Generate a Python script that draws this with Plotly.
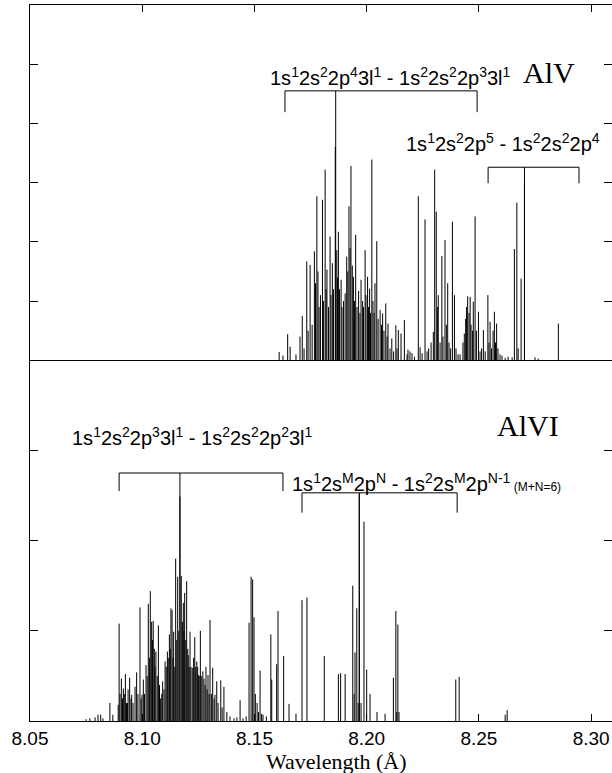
import plotly.graph_objects as go

# ---------------- data (wavelength in Angstrom, relative intensity) ----------------
alv_wavelength = [
    8.1610, 8.1627, 8.1648, 8.1659, 8.1685, 8.1703, 8.1713, 8.1721, 8.1733, 8.1739,
    8.1748, 8.1757, 8.1767, 8.1772, 8.1778, 8.1783, 8.1788, 8.1794, 8.1803, 8.1808,
    8.1815, 8.1819, 8.1823, 8.1830, 8.1837, 8.1841, 8.1847, 8.1852, 8.1860, 8.1867,
    8.1870, 8.1874, 8.1879, 8.1886, 8.1890, 8.1897, 8.1904, 8.1911, 8.1916, 8.1921,
    8.1926, 8.1930, 8.1936, 8.1941, 8.1946, 8.1951, 8.1957, 8.1964, 8.1970, 8.1975,
    8.1982, 8.1986, 8.1993, 8.1997, 8.2004, 8.2008, 8.2013, 8.2017, 8.2023, 8.2028,
    8.2033, 8.2037, 8.2045, 8.2051, 8.2060, 8.2066, 8.2071, 8.2077, 8.2085, 8.2091,
    8.2095, 8.2104, 8.2112, 8.2120, 8.2130, 8.2135, 8.2141, 8.2153, 8.2168, 8.2180,
    8.2184, 8.2193, 8.2202, 8.2213, 8.2230, 8.2238, 8.2247, 8.2260, 8.2269, 8.2276,
    8.2287, 8.2297, 8.2303, 8.2310, 8.2315, 8.2319, 8.2327, 8.2335, 8.2340, 8.2349,
    8.2355, 8.2361, 8.2367, 8.2374, 8.2382, 8.2391, 8.2398, 8.2407, 8.2416, 8.2429,
    8.2435, 8.2441, 8.2445, 8.2450, 8.2456, 8.2461, 8.2465, 8.2472, 8.2475, 8.2483,
    8.2489, 8.2498, 8.2505, 8.2512, 8.2520, 8.2528, 8.2540, 8.2545, 8.2550, 8.2556,
    8.2563, 8.2569, 8.2574, 8.2579, 8.2585, 8.2594, 8.2603, 8.2617, 8.2630, 8.2648,
    8.2658, 8.2669, 8.2675, 8.2688, 8.2703, 8.2750, 8.2764, 8.2854,
]
alv_intensity = [
    0.14, 0.08, 0.44, 0.23, 0.10, 0.40, 0.75, 0.20, 1.67, 0.50,
    1.61, 0.60, 1.84, 1.30, 2.77, 1.50, 0.90, 1.10, 2.71, 1.00,
    3.22, 1.20, 1.53, 0.90, 2.09, 1.10, 1.64, 1.20, 3.60, 1.86,
    1.40, 2.17, 1.20, 1.36, 0.90, 1.00, 1.13, 1.75, 1.50, 2.60,
    1.90, 3.28, 1.60, 1.41, 1.00, 2.12, 0.90, 1.17, 0.80, 1.36,
    1.00, 0.90, 1.86, 1.10, 1.41, 0.90, 1.21, 0.80, 3.39, 1.00,
    0.80, 1.30, 2.01, 0.70, 0.85, 0.60, 0.79, 0.50, 0.96, 0.40,
    0.62, 0.20, 0.37, 0.15, 0.59, 0.20, 0.51, 0.45, 0.68, 0.10,
    0.18, 0.15, 0.12, 0.06, 2.77, 0.22, 0.12, 2.38, 0.15, 0.20,
    0.30, 0.48, 3.22, 2.51, 0.90, 1.10, 0.30, 1.76, 0.40, 2.03,
    0.60, 1.30, 0.30, 0.20, 2.34, 1.10, 0.20, 0.10, 0.10, 0.30,
    0.45, 0.70, 0.90, 1.08, 0.80, 1.07, 0.60, 0.50, 0.99, 2.43,
    0.50, 0.82, 0.15, 0.20, 0.51, 0.15, 1.10, 0.30, 0.65, 0.20,
    0.50, 0.82, 0.30, 0.62, 0.20, 0.10, 0.08, 0.04, 0.06, 0.05,
    1.88, 2.66, 0.20, 1.38, 3.00, 0.05, 0.03, 0.62,
]

alvi_wavelength = [
    8.0750, 8.0767, 8.0790, 8.0803, 8.0815, 8.0825, 8.0856, 8.0869, 8.0893, 8.0897,
    8.0901, 8.0907, 8.0912, 8.0916, 8.0920, 8.0925, 8.0930, 8.0934, 8.0937, 8.0944,
    8.0950, 8.0953, 8.0959, 8.0968, 8.0975, 8.0981, 8.0990, 8.0995, 8.0999, 8.1005,
    8.1010, 8.1017, 8.1022, 8.1027, 8.1032, 8.1036, 8.1042, 8.1046, 8.1049, 8.1054,
    8.1057, 8.1061, 8.1067, 8.1072, 8.1077, 8.1082, 8.1087, 8.1091, 8.1097, 8.1102,
    8.1107, 8.1112, 8.1116, 8.1121, 8.1125, 8.1128, 8.1133, 8.1137, 8.1140, 8.1145,
    8.1149, 8.1154, 8.1158, 8.1163, 8.1168, 8.1174, 8.1179, 8.1183, 8.1186, 8.1189,
    8.1194, 8.1198, 8.1203, 8.1205, 8.1209, 8.1213, 8.1217, 8.1223, 8.1229, 8.1234,
    8.1238, 8.1243, 8.1247, 8.1250, 8.1254, 8.1259, 8.1263, 8.1270, 8.1275, 8.1280,
    8.1284, 8.1289, 8.1293, 8.1298, 8.1302, 8.1308, 8.1314, 8.1320, 8.1324, 8.1332,
    8.1338, 8.1350, 8.1356, 8.1364, 8.1377, 8.1391, 8.1409, 8.1422, 8.1436, 8.1449,
    8.1463, 8.1476, 8.1485, 8.1492, 8.1498, 8.1504, 8.1512, 8.1518, 8.1525, 8.1532,
    8.1538, 8.1553, 8.1573, 8.1577, 8.1599, 8.1605, 8.1630, 8.1654, 8.1685, 8.1712,
    8.1734, 8.1811, 8.1874, 8.1884, 8.1904, 8.1938, 8.1944, 8.1948, 8.1956, 8.1962,
    8.1967, 8.1975, 8.1988, 8.2000, 8.2015, 8.2046, 8.2082, 8.2119, 8.2130, 8.2134,
    8.2139, 8.2144, 8.2397, 8.2412, 8.2617, 8.2626,
]
alvi_intensity = [
    0.02, 0.03, 0.04, 0.07, 0.07, 0.03, 0.20, 0.07, 0.18, 1.08,
    0.30, 0.47, 0.25, 0.36, 0.30, 0.52, 0.20, 0.20, 0.35, 0.48,
    0.25, 0.29, 0.20, 0.38, 0.54, 0.30, 1.26, 0.25, 0.29, 0.46,
    0.30, 0.62, 0.50, 1.30, 0.70, 1.44, 1.10, 0.90, 1.11, 0.80,
    0.60, 0.77, 0.50, 1.06, 0.40, 0.25, 0.30, 0.44, 0.35, 0.66,
    0.60, 0.77, 0.70, 0.96, 0.80, 1.25, 1.23, 0.70, 0.99, 0.60,
    1.80, 0.90, 1.60, 1.00, 2.49, 1.61, 1.10, 1.31, 1.00, 1.42,
    0.90, 1.55, 0.80, 0.73, 0.60, 0.99, 0.60, 0.59, 0.70, 0.93,
    0.60, 0.66, 0.60, 0.51, 0.50, 1.00, 0.50, 0.55, 0.47, 0.40,
    0.60, 0.35, 0.51, 0.30, 1.12, 0.30, 0.59, 0.25, 0.29, 0.44,
    0.20, 0.45, 0.15, 0.38, 0.10, 0.05, 0.03, 0.04, 0.23, 0.03,
    0.05, 1.09, 1.60, 1.57, 1.15, 0.30, 0.20, 0.10, 0.56, 0.08,
    0.07, 0.05, 0.96, 0.46, 0.63, 1.22, 0.72, 0.19, 0.08, 1.34,
    1.37, 0.72, 0.52, 0.53, 0.52, 1.50, 0.30, 0.76, 1.25, 0.20,
    2.52, 0.20, 2.21, 0.57, 0.30, 0.10, 0.08, 0.48, 1.22, 0.10,
    1.07, 0.10, 0.46, 0.49, 0.07, 0.12,
]

x_tick_values = [8.05, 8.10, 8.15, 8.20, 8.25, 8.30]
x_tick_labels = ["8.05", "8.10", "8.15", "8.20", "8.25", "8.30"]

# bracket annotations: [left, stem, right] wavelength, top level, end level
brackets_top = [
    ([8.1636, 8.1862, 8.2492], 4.55, 4.19),
    ([8.2541, 8.2703, 8.2946], 3.26, 2.99),
]
brackets_bottom = [
    ([8.0897, 8.1168, 8.1627], 2.75, 2.55),
    ([8.1712, 8.1967, 8.2403], 2.53, 2.31),
]


def sticks(wl, inten):
    xs, ys = [], []
    for w, h in zip(wl, inten):
        xs += [w, w, None]
        ys += [0, h, None]
    return xs, ys


fig = go.Figure()
tx, ty = sticks(alv_wavelength, alv_intensity)
bx, by = sticks(alvi_wavelength, alvi_intensity)
fig.add_trace(go.Scatter(x=tx, y=ty, mode="lines", line=dict(color="black", width=1),
                         xaxis="x2", yaxis="y2", hoverinfo="skip", showlegend=False))
fig.add_trace(go.Scatter(x=bx, y=by, mode="lines", line=dict(color="black", width=1),
                         xaxis="x", yaxis="y", hoverinfo="skip", showlegend=False))

shapes = []
for (xs, top, end), xr, yr in [(b, "x2", "y2") for b in brackets_top] + [(b, "x", "y") for b in brackets_bottom]:
    left, stem, right = xs
    path = f"M {left},{end} L {left},{top} L {right},{top} L {right},{end}"
    shapes.append(dict(type="path", path=path, xref=xr, yref=yr,
                       line=dict(color="black", width=1)))
    shapes.append(dict(type="line", x0=stem, x1=stem, y0=top, y1=0, xref=xr, yref=yr,
                       line=dict(color="black", width=1)))

sans = "Liberation Sans, Arial, sans-serif"
serif = "Liberation Serif, Times New Roman, serif"

annotations = [
    dict(text="1s<sup>1</sup>2s<sup>2</sup>2p<sup>4</sup>3l<sup>1</sup> - 1s<sup>2</sup>2s<sup>2</sup>2p<sup>3</sup>3l<sup>1</sup>",
         x=8.2104, y=4.80, xref="x2", yref="y2", showarrow=False,
         font=dict(family=sans, size=20, color="black")),
    dict(text="AlV", x=8.2813, y=4.86, xref="x2", yref="y2", showarrow=False,
         font=dict(family=serif, size=30, color="black")),
    dict(text="1s<sup>1</sup>2s<sup>2</sup>2p<sup>5</sup> - 1s<sup>2</sup>2s<sup>2</sup>2p<sup>4</sup>",
         x=8.2608, y=3.68, xref="x2", yref="y2", showarrow=False,
         font=dict(family=sans, size=20, color="black")),
    dict(text="AlVI", x=8.2719, y=3.28, xref="x", yref="y", showarrow=False,
         font=dict(family=serif, size=30, color="black")),
    dict(text="1s<sup>1</sup>2s<sup>2</sup>2p<sup>3</sup>3l<sup>1</sup> - 1s<sup>2</sup>2s<sup>2</sup>2p<sup>2</sup>3l<sup>1</sup>",
         x=8.1222, y=3.15, xref="x", yref="y", showarrow=False,
         font=dict(family=sans, size=20, color="black")),
    dict(text="1s<sup>1</sup>2s<sup>M</sup>2p<sup>N</sup> - 1s<sup>2</sup>2s<sup>M</sup>2p<sup>N-1</sup>"
              "<span style='font-size:12px'> (M+N=6)</span>",
         x=8.1659, y=2.65, xref="x", yref="y", xanchor="left", showarrow=False,
         font=dict(family=sans, size=20, color="black")),
    dict(text="Wavelength (Å)", x=0.526, y=-0.056, xref="paper", yref="paper",
         yanchor="middle", showarrow=False, font=dict(family=serif, size=22, color="black")),
]

split = 0.5038
fig.update_layout(
    width=612, height=773,
    margin=dict(l=30, r=0, t=5, b=52),
    paper_bgcolor="white", plot_bgcolor="white",
    shapes=shapes, annotations=annotations,
    xaxis=dict(domain=[0, 1], range=[8.05, 8.3093], anchor="y",
               tickvals=x_tick_values, ticktext=x_tick_labels,
               ticks="inside", ticklen=7, tickcolor="black",
               showline=True, linecolor="black", linewidth=1, mirror=False,
               showgrid=False, zeroline=False,
               tickfont=dict(family=sans, size=19, color="black")),
    yaxis=dict(domain=[0, split], range=[0, 4], anchor="x",
               tickvals=[1, 2, 3], showticklabels=False,
               ticks="inside", ticklen=8, tickcolor="black",
               showline=True, linecolor="black", linewidth=1, mirror="ticks",
               showgrid=False, zeroline=False),
    xaxis2=dict(domain=[0, 1], range=[8.05, 8.3093], anchor="y2", matches="x", side="top",
                tickvals=x_tick_values, showticklabels=False,
                ticks="inside", ticklen=7, tickcolor="black",
                showline=True, linecolor="black", linewidth=1, mirror=True,
                showgrid=False, zeroline=False),
    yaxis2=dict(domain=[split, 1], range=[0, 6], anchor="x2",
                tickvals=[1, 2, 3, 4, 5], showticklabels=False,
                ticks="inside", ticklen=8, tickcolor="black",
                showline=True, linecolor="black", linewidth=1, mirror="ticks",
                showgrid=False, zeroline=False),
)

fig.write_html("out.html", config={"displayModeBar": False},
               post_script="document.body.style.margin='0';document.body.style.overflow='hidden';")
